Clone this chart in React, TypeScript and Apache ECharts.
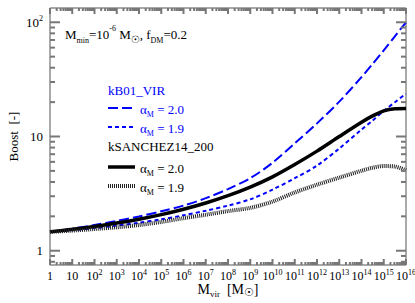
import React, { useEffect, useRef } from "react";
import * as echarts from "echarts";

// log10 of M_vir [M_sun]
const massExponents = [0, 1, 2, 3, 4, 5, 6, 7, 8, 9, 10, 11, 12, 13, 14, 14.5, 15, 15.5, 16];
// Boost factors
const boostB01Alpha20 = [1.462, 1.56, 1.679, 1.82, 1.995, 2.213, 2.483, 2.884, 3.467, 4.315, 5.888, 8.71, 13.03, 20.18, 33.11, 43.15, 56.89, 75.34, 100];
const boostB01Alpha19 = [1.462, 1.514, 1.578, 1.66, 1.758, 1.884, 2.042, 2.239, 2.483, 2.818, 3.428, 4.315, 5.559, 7.852, 11.48, 13.8, 16.79, 19.95, 23.71];
const boostS14Alpha20 = [1.462, 1.542, 1.633, 1.746, 1.888, 2.07, 2.307, 2.618, 3.034, 3.606, 4.436, 5.689, 7.447, 10.0, 13.34, 15.14, 16.79, 17.5, 17.58];
const boostS14Alpha19 = [1.462, 1.5, 1.549, 1.603, 1.679, 1.786, 1.928, 2.065, 2.223, 2.371, 2.692, 3.236, 3.784, 4.365, 5.012, 5.333, 5.508, 5.458, 5.058];

const xMajorTicks = [0, 1, 2, 3, 4, 5, 6, 7, 8, 9, 10, 11, 12, 13, 14, 15, 16];
const minorMultipliers = [2, 3, 4, 5, 6, 7, 8, 9];
const yMajorTicks = [1, 10, 100];
const yMinorTicks = [0.8, 0.9, 2, 3, 4, 5, 6, 7, 8, 9, 20, 30, 40, 50, 60, 70, 80, 90];

const FONT = "'Liberation Serif', 'DejaVu Serif', serif";
const BLUE = "#0000ff";
const AXIS_COLOR = "#555";
const TICK_COLOR = "#777";

function pairs(values: number[]) {
  return massExponents.map((e, i) => [e, values[i]]);
}

export default function App() {
  const ref = useRef<HTMLDivElement>(null);
  useEffect(() => {
    if (!ref.current) return;
    const chart = echarts.init(ref.current, null, { renderer: "svg" });
    const yMin = Math.pow(10, -0.125);
    const yMax = Math.pow(10, 2.125);
    const xMin = 0;
    const xMax = 16;

    const supRich = {
      sup: { fontSize: 8, verticalAlign: "top", lineHeight: 16, fontFamily: FONT, color: "#000" },
    };
    const lineSeries = (name: string, values: number[], lineStyle: any) => ({
      type: "line",
      name,
      data: pairs(values),
      smooth: 0.3,
      showSymbol: false,
      lineStyle,
    });
    const alphaText = (x: number, y: number, label: string, color: string) => ({
      type: "text",
      x,
      y,
      style: {
        text: "α{sub|M} = " + label,
        fontFamily: FONT,
        fontSize: 13,
        fill: color,
        verticalAlign: "middle",
        lineHeight: 18,
        rich: { sub: { fontSize: 8, verticalAlign: "bottom", lineHeight: 18, fontFamily: FONT, fill: color } },
      },
    });

    const legendGraphics: any[] = [
      {
        type: "text",
        x: 65,
        y: 34,
        style: {
          text: "M{sub|min}=10{sup|-6} M{sun|☉}, f{sub|DM}=0.2",
          fontFamily: FONT,
          fontSize: 13,
          fill: "#000",
          verticalAlign: "middle",
          lineHeight: 18,
          rich: {
            sub: { fontSize: 8, verticalAlign: "bottom", lineHeight: 18, fontFamily: FONT },
            sup: { fontSize: 8, verticalAlign: "top", lineHeight: 18, fontFamily: FONT },
            sun: { fontSize: 10, verticalAlign: "bottom", lineHeight: 20, fontFamily: "DejaVu Sans" },
          },
        },
      },
      {
        type: "text",
        x: 108,
        y: 90,
        style: { text: "kB01_VIR", fontFamily: FONT, fontSize: 13, fill: BLUE, verticalAlign: "middle" },
      },
      {
        type: "line",
        shape: { x1: 108, y1: 108, x2: 135, y2: 108 },
        style: { stroke: BLUE, lineWidth: 2, lineDash: [10, 4] },
      },
      alphaText(140, 109, "2.0", BLUE),
      {
        type: "line",
        shape: { x1: 108, y1: 127, x2: 135, y2: 127 },
        style: { stroke: BLUE, lineWidth: 2, lineDash: [4, 3] },
      },
      alphaText(140, 128, "1.9", BLUE),
      {
        type: "text",
        x: 108,
        y: 146,
        style: { text: "kSANCHEZ14_200", fontFamily: FONT, fontSize: 13, fill: "#000", verticalAlign: "middle" },
      },
      {
        type: "line",
        shape: { x1: 108, y1: 167, x2: 135, y2: 167 },
        style: { stroke: "#000", lineWidth: 3.5 },
      },
      alphaText(140, 168, "2.0", "#000"),
      {
        type: "line",
        shape: { x1: 108, y1: 186, x2: 135, y2: 186 },
        style: { stroke: "#222", lineWidth: 4, lineDash: [1, 1] },
      },
      alphaText(140, 187, "1.9", "#000"),
    ];

    const option: any = {
      animation: false,
      backgroundColor: "#fff",
      grid: {
        left: 50,
        right: 9,
        top: 8,
        bottom: 38,
        show: true,
        borderColor: AXIS_COLOR,
        borderWidth: 1,
        outerBoundsMode: "none",
      },
      xAxis: {
        type: "value",
        min: xMin,
        max: xMax,
        interval: 1,
        axisLine: { show: false },
        axisTick: { show: false },
        splitLine: { show: false },
        axisLabel: {
          margin: 3,
          fontFamily: FONT,
          fontSize: 12,
          color: "#000",
          lineHeight: 16,
          formatter: (v: number) => (v === 0 ? "1" : v === 1 ? "10" : "10{sup|" + v + "}"),
          rich: supRich,
        },
        name: "M{sub|vir}  [M{sun|☉}]",
        nameLocation: "middle",
        nameGap: 15,
        nameMoveOverlap: false,
        nameTextStyle: {
          fontFamily: FONT,
          fontSize: 14,
          color: "#000",
          lineHeight: 18,
          rich: {
            sub: { fontSize: 9, verticalAlign: "bottom", lineHeight: 18, fontFamily: FONT, color: "#000" },
            sun: { fontSize: 11, verticalAlign: "bottom", lineHeight: 18, fontFamily: "DejaVu Sans", color: "#000" },
          },
        },
      },
      yAxis: {
        type: "log",
        logBase: 10,
        min: yMin,
        max: yMax,
        axisLine: { show: false },
        axisTick: { show: false },
        splitLine: { show: false },
        axisLabel: {
          margin: 7,
          fontFamily: FONT,
          fontSize: 13,
          color: "#000",
          lineHeight: 16,
          showMinLabel: false,
          showMaxLabel: false,
          formatter: (v: number) => {
            const e = Math.round(Math.log10(v));
            return e === 0 ? "1" : e === 1 ? "10" : "10{sup|" + e + "}";
          },
          rich: supRich,
        },
        name: "Boost  [-]",
        nameLocation: "middle",
        nameGap: 30,
        nameMoveOverlap: false,
        nameTextStyle: { fontFamily: FONT, fontSize: 13, color: "#000" },
      },
      series: [
        lineSeries("kB01_VIR α=2.0", boostB01Alpha20, { color: BLUE, width: 2, type: [10, 4] }),
        lineSeries("kB01_VIR α=1.9", boostB01Alpha19, { color: BLUE, width: 2, type: [4, 3] }),
        lineSeries("kSANCHEZ14_200 α=2.0", boostS14Alpha20, { color: "#000", width: 3.5 }),
        lineSeries("kSANCHEZ14_200 α=1.9", boostS14Alpha19, { color: "#222", width: 4, type: [1, 1] }),
      ],
      graphic: legendGraphics,
    };
    chart.setOption(option);

    // Tick marks on all four sides, placed with the chart's own axis scales.
    const toPx = (x: number, y: number) => chart.convertToPixel({ gridIndex: 0 }, [x, y]) as number[];
    const corner0 = toPx(xMin, yMin);
    const corner1 = toPx(xMax, yMax);
    const left = corner0[0];
    const bottom = corner0[1];
    const right = corner1[0];
    const top = corner1[1];
    const T = 2;
    const tickGraphics: any[] = [];
    const addXTick = (e: number, len: number) => {
      const x = toPx(e, 1)[0] - T / 2;
      tickGraphics.push({ type: "rect", z: 10, shape: { x, y: bottom - len, width: T, height: len }, style: { fill: TICK_COLOR } });
      tickGraphics.push({ type: "rect", z: 10, shape: { x, y: top, width: T, height: len }, style: { fill: TICK_COLOR } });
    };
    const addYTick = (v: number, len: number) => {
      const y = toPx(xMin, v)[1] - T / 2;
      tickGraphics.push({ type: "rect", z: 10, shape: { x: left, y, width: len, height: T }, style: { fill: TICK_COLOR } });
      tickGraphics.push({ type: "rect", z: 10, shape: { x: right - len, y, width: len, height: T }, style: { fill: TICK_COLOR } });
    };
    xMajorTicks.forEach((e) => addXTick(e, 6));
    xMajorTicks.slice(0, -1).forEach((e) => minorMultipliers.forEach((m) => addXTick(e + Math.log10(m), 3)));
    yMajorTicks.forEach((v) => addYTick(v, 10));
    yMinorTicks.forEach((v) => addYTick(v, 5));

    chart.setOption({ graphic: [...legendGraphics, ...tickGraphics] });
    return () => chart.dispose();
  }, []);
  return (
    <div
      ref={ref}
      style={{ position: "absolute", left: 0, top: 0, width: 415, height: 303, background: "#fff" }}
    />
  );
}
